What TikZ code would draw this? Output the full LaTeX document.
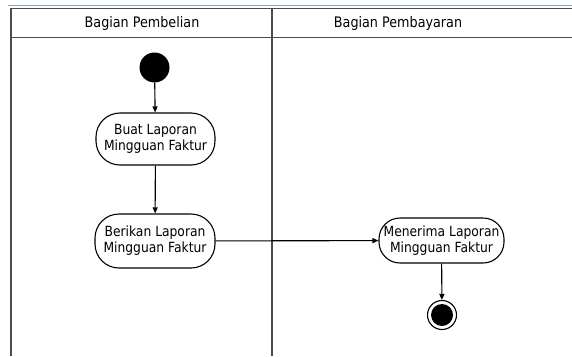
\documentclass[tikz,border=0pt]{standalone}
\usepackage{fontspec}
\setmainfont{DejaVu Sans}[FakeStretch=0.88]
\usetikzlibrary{arrows.meta}
\definecolor{rulecolor}{RGB}{125,165,205}
\begin{document}
\begin{tikzpicture}[x=1pt,y=-1pt,
  lane/.style={draw=black!70, line width=1.8pt},
  action/.style={draw=black, line width=1.1pt, rounded corners=24pt,
    align=center, font=\fontsize{14}{16}\selectfont, inner sep=0pt},
  flow/.style={draw=black, line width=1.1pt, -{Triangle[length=6pt,width=5pt]}},
  lanetitle/.style={font=\fontsize{14.5}{16}\selectfont}]
\useasboundingbox (0,0) rectangle (572,356);
% swimlane frame
\draw[draw=rulecolor, line width=1.2pt] (8,5.5) -- (572,5.5);
\draw[lane] (11,356) -- (11,8.5) -- (572,8.5);
\draw[lane] (11,37.5) -- (572,37.5);
\draw[lane] (272,8.5) -- (272,356);
\node[lanetitle] (l1) at (142,23) {Bagian Pembelian};
\node[lanetitle] (l2) at (398,23) {Bagian Pembayaran};
% activities
\node[circle, fill=black, minimum size=30pt, inner sep=0pt] (start) at (154.5,67.5) {};
\node[action, minimum width=119pt, minimum height=52pt] (a1) at (155.5,139) {Buat Laporan\\Mingguan Faktur};
\node[action, minimum width=120pt, minimum height=54pt] (a2) at (155,241) {Berikan Laporan\\Mingguan Faktur};
\node[action, rounded corners=21pt, minimum width=125pt, minimum height=45pt] (a3) at (441.5,240.5) {Menerima Laporan\\Mingguan Faktur};
\node[circle, draw=black, line width=1.1pt, minimum size=29pt, inner sep=0pt] (end) at (442,315) {};
\node[circle, fill=black, minimum size=22pt, inner sep=0pt] (endin) at (end.center) {};
% control flow
\draw[flow] (start) -- (a1);
\draw[flow] (a1) -- (a2);
\draw[flow] (a2) -- (a3);
\draw[flow] (a3) -- (end);
\end{tikzpicture}
\end{document}
